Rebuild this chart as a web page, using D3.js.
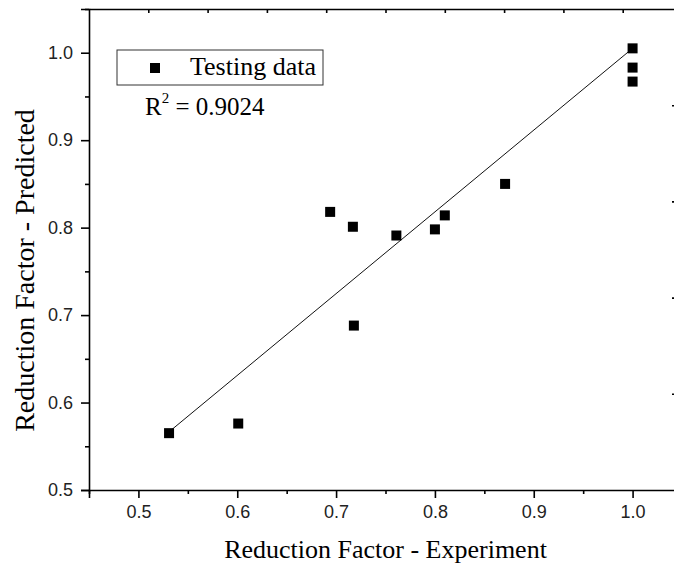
<!DOCTYPE html>
<html>
<head>
<meta charset="utf-8">
<script src="https://cdn.jsdelivr.net/npm/d3@7"></script>
<style>
  body { margin: 0; background: #fff; }
  svg { display: block; }
</style>
</head>
<body>
<div id="chart"></div>
<script>
// measured vs predicted reduction factor (testing set)
const experiment = [0.531, 0.601, 0.694, 0.717, 0.718, 0.761, 0.800, 0.810, 0.871, 1.0, 1.0, 1.0];
const predicted  = [0.565, 0.576, 0.818, 0.801, 0.688, 0.791, 0.798, 0.814, 0.850, 1.005, 0.983, 0.967];

// linear fit drawn over the data range
const fitSlope = 0.935;
const fitIntercept = 0.070;
const fitRange = [0.531, 1.0];

const xTicks = [0.5, 0.6, 0.7, 0.8, 0.9, 1.0];
const xMinor = [0.45, 0.55, 0.65, 0.75, 0.85, 0.95, 1.05];
const yTicks = [0.5, 0.6, 0.7, 0.8, 0.9, 1.0];
const yMinor = [0.55, 0.65, 0.75, 0.85, 0.95, 1.05];
// the top and right frame carry their own evenly spaced ticks
const topTicks = [1, 2, 3, 4, 5, 6, 7, 8, 9];
const rightTicks = [1, 2, 3, 4];

const r2Value = "0.9024";
const legendLabel = "Testing data";

var w = 674, h = 567;
var margin = { top: 9, right: -8, bottom: 77, left: 89 };
var width = w - margin.left - margin.right,
    height = h - margin.top - margin.bottom;

var svg = d3.select("#chart")
    .append("svg")
    .attr("width", w)
    .attr("height", h)
    .append("g")
    .attr("transform", `translate(${margin.left}, ${margin.top})`);

var x = d3.scaleLinear().domain([0.45, 1.05]).range([0, width]);
var y = d3.scaleLinear().domain([0.5, 1.05]).range([height, 0]);
var xTop = d3.scaleLinear().domain([0, 10]).range([0, width]);
var yRight = d3.scaleLinear().domain([0, 5]).range([0, height]);

const tickFont = "'Liberation Sans', Arial, sans-serif";
const serif = "'Liberation Serif', 'Times New Roman', serif";

// bottom axis: major + minor ticks
svg.append("g")
    .attr("transform", `translate(0, ${height})`)
    .call(d3.axisBottom(x).tickValues(xTicks).tickSize(8).tickPadding(7).tickFormat(d3.format(".1f")));
svg.append("g")
    .attr("transform", `translate(0, ${height})`)
    .call(d3.axisBottom(x).tickValues(xMinor).tickSize(4).tickFormat(""))
    .select(".domain").remove();

// left axis
svg.append("g")
    .call(d3.axisLeft(y).tickValues(yTicks).tickSize(8).tickPadding(8).tickFormat(d3.format(".1f")));
svg.append("g")
    .call(d3.axisLeft(y).tickValues(yMinor).tickSize(4).tickFormat(""))
    .select(".domain").remove();

// top and right frame lines with inward ticks
svg.append("g")
    .call(d3.axisBottom(xTop).tickValues(topTicks).tickSize(4).tickSizeOuter(0).tickFormat(""));
svg.append("g")
    .attr("transform", `translate(${width}, 0)`)
    .call(d3.axisLeft(yRight).tickValues(rightTicks).tickSize(10).tickSizeOuter(0).tickFormat(""));

svg.selectAll(".domain, .tick line")
    .attr("stroke", "#000")
    .attr("stroke-width", 1.6);
svg.selectAll(".tick text")
    .attr("font-family", tickFont)
    .attr("font-size", 18)
    .attr("fill", "#222");

// fit line
svg.append("line")
    .attr("x1", x(fitRange[0]))
    .attr("y1", y(fitSlope * fitRange[0] + fitIntercept))
    .attr("x2", x(fitRange[1]))
    .attr("y2", y(fitSlope * fitRange[1] + fitIntercept))
    .attr("stroke", "#111")
    .attr("stroke-width", 1);

// points
var size = 10;
svg.selectAll("rect.pt")
    .data(experiment.map((d, i) => ({ x: d, y: predicted[i] })))
    .join("rect")
    .attr("class", "pt")
    .attr("x", d => x(d.x) - size / 2)
    .attr("y", d => y(d.y) - size / 2)
    .attr("width", size)
    .attr("height", size)
    .attr("fill", "#000");

// legend
var leg = svg.append("g").attr("transform", "translate(28, 41)");
leg.append("rect")
    .attr("width", 206)
    .attr("height", 35)
    .attr("fill", "#fff")
    .attr("stroke", "#333")
    .attr("stroke-width", 1);
leg.append("rect")
    .attr("x", 33)
    .attr("y", 13)
    .attr("width", size)
    .attr("height", size)
    .attr("fill", "#000");
leg.append("text")
    .attr("x", 73)
    .attr("y", 25)
    .attr("font-family", serif)
    .attr("font-size", 26)
    .text(legendLabel);

// R squared
var r2 = svg.append("text")
    .attr("x", 56)
    .attr("y", 106)
    .attr("font-family", serif)
    .attr("font-size", 25);
r2.append("tspan").text("R");
r2.append("tspan").attr("font-size", 15).attr("dy", -12).text("2");
r2.append("tspan").attr("dy", 12).text(" = " + r2Value);

// axis titles
svg.append("text")
    .attr("x", width / 2)
    .attr("y", height + 68)
    .attr("text-anchor", "middle")
    .attr("font-family", serif)
    .attr("font-size", 26)
    .text("Reduction Factor - Experiment");

svg.append("text")
    .attr("transform", `translate(-55, ${height / 2 + 21}) rotate(-90)`)
    .attr("text-anchor", "middle")
    .attr("font-family", serif)
    .attr("font-size", 28)
    .text("Reduction Factor - Predicted");
</script>
</body>
</html>
